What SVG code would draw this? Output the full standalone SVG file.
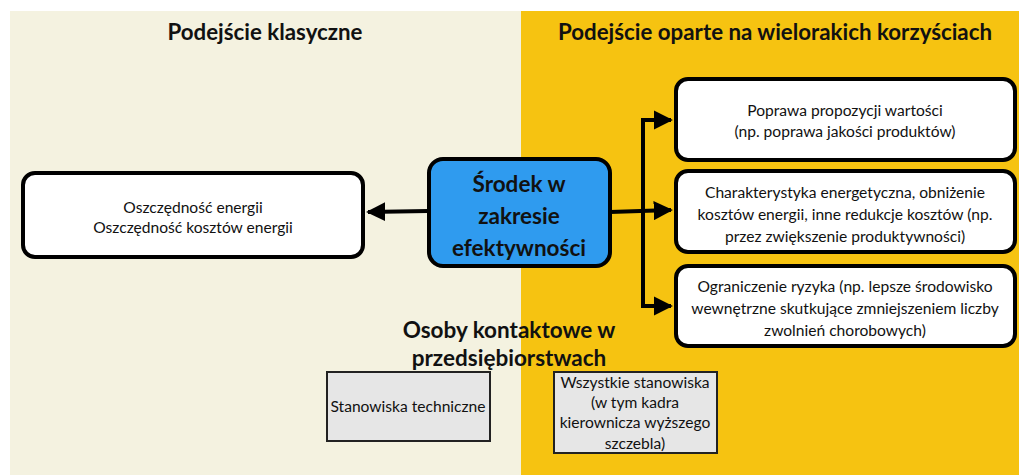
<svg xmlns="http://www.w3.org/2000/svg" width="1019" height="475" viewBox="0 0 1019 475">
<defs>
<style>
.t{font-family:Lato,"Liberation Sans",sans-serif;font-size:15.6px;fill:#111;text-anchor:middle}
.h{font-family:Lato,"Liberation Sans",sans-serif;font-size:22.3px;font-weight:bold;fill:#111;text-anchor:middle}
.b{font-family:Lato,"Liberation Sans",sans-serif;font-size:22.5px;font-weight:bold;fill:#111;text-anchor:middle}
.box{fill:#fff;stroke:#000;stroke-width:4}
.grey{fill:#e6e6e6;stroke:#222;stroke-width:2}
.con{fill:none;stroke:#000;stroke-width:4}
</style>
<marker id="ah" viewBox="0 0 10 10" refX="9" refY="5" markerWidth="4.8" markerHeight="4.8" markerUnits="strokeWidth" orient="auto">
<path d="M0,0 L10,5 L0,10 z" fill="#000"/>
</marker>
</defs>
<rect x="0" y="0" width="1019" height="475" fill="#fff"/>
<rect x="10" y="11" width="511" height="464" fill="#f4f2e0"/>
<rect x="521" y="11" width="498" height="464" fill="#f6c311"/>
<text class="h" x="265" y="40">Podejście klasyczne</text>
<text class="h" x="775" y="40">Podejście oparte na wielorakich korzyściach</text>
<g id="connectors">
<path class="con" d="M428,211 L368,212" marker-end="url(#ah)"/>
<path class="con" d="M610,212 L671,210" marker-end="url(#ah)"/>
<path class="con" d="M643,120 L643,306"/>
<path class="con" d="M641,120 L671,120" marker-end="url(#ah)"/>
<path class="con" d="M641,306 L671,306" marker-end="url(#ah)"/>
</g>
<g id="classic">
<rect class="box" x="23" y="173" width="340" height="84" rx="12"/>
<text class="t" x="193" y="213">Oszczędność energii</text>
<text class="t" x="193" y="233">Oszczędność kosztów energii</text>
</g>
<g id="measure">
<rect x="429" y="159" width="181" height="107" rx="14" fill="#2f9bef" stroke="#000" stroke-width="4"/>
<text class="b" x="519" y="192">Środek w</text>
<text class="b" x="519" y="224">zakresie</text>
<text class="b" x="519" y="256">efektywności</text>
</g>
<g id="value">
<rect class="box" x="676" y="79" width="339" height="81" rx="12"/>
<text class="t" x="845" y="116">Poprawa propozycji wartości</text>
<text class="t" x="845" y="137">(np. poprawa jakości produktów)</text>
</g>
<g id="energy">
<rect class="box" x="676" y="171" width="339" height="81" rx="12"/>
<text class="t" x="845" y="198">Charakterystyka energetyczna, obniżenie</text>
<text class="t" x="845" y="220">kosztów energii, inne redukcje kosztów (np.</text>
<text class="t" x="845" y="242">przez zwiększenie produktywności)</text>
</g>
<g id="risk">
<rect class="box" x="676" y="266" width="339" height="80" rx="12"/>
<text class="t" x="845" y="292">Ograniczenie ryzyka (np. lepsze środowisko</text>
<text class="t" x="845" y="314">wewnętrzne skutkujące zmniejszeniem liczby</text>
<text class="t" x="845" y="336">zwolnień chorobowych)</text>
</g>
<text class="b" x="509" y="338">Osoby kontaktowe w</text>
<text class="b" x="509" y="366">przedsiębiorstwach</text>
<g id="technical">
<rect class="grey" x="327" y="372" width="163" height="69"/>
<text class="t" x="408" y="412">Stanowiska techniczne</text>
</g>
<g id="all">
<rect class="grey" x="554" y="372" width="163" height="81"/>
<text class="t" x="635" y="388">Wszystkie stanowiska</text>
<text class="t" x="635" y="408">(w tym kadra</text>
<text class="t" x="635" y="428">kierownicza wyższego</text>
<text class="t" x="635" y="449">szczebla)</text>
</g>
</svg>
